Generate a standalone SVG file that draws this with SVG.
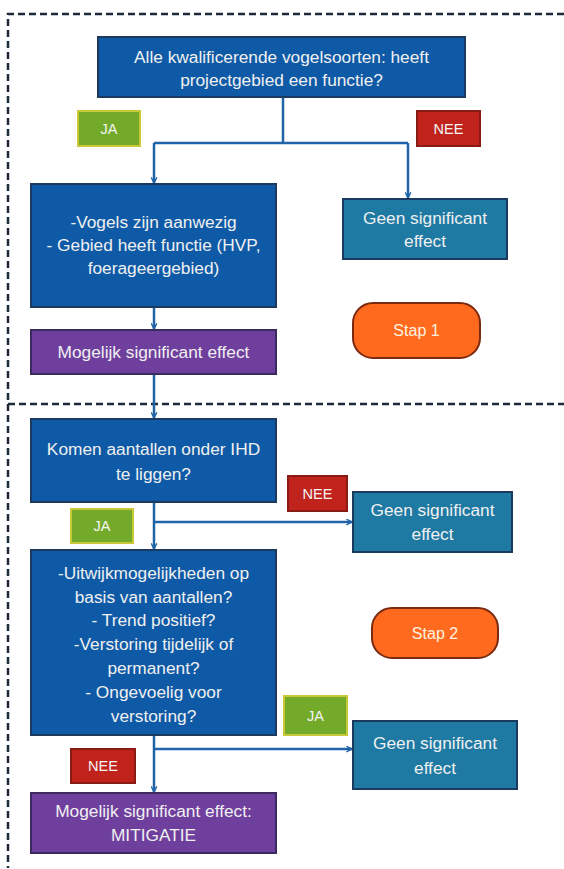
<svg xmlns="http://www.w3.org/2000/svg" width="564" height="869" viewBox="0 0 564 869">
<defs>
<marker id="ah" viewBox="0 0 10 10" refX="9" refY="5" markerWidth="7" markerHeight="7" orient="auto" markerUnits="userSpaceOnUse">
<path d="M1,1 L9,5 L1,9" fill="none" stroke="#1f64a6" stroke-width="2"/>
</marker>
<style>
.blue{fill:#0f5aa6;stroke:#1c3a5e;stroke-width:2}
.teal{fill:#1f7aa3;stroke:#1c3a5e;stroke-width:2}
.purple{fill:#6f3f9e;stroke:#3a2a5e;stroke-width:2}
.orange{fill:#ff6a1e;stroke:#7a2a10;stroke-width:2}
.ja{fill:#73aa2a;stroke:#c8c838;stroke-width:2}
.nee{fill:#c0231c;stroke:#8a1a14;stroke-width:2}
.t{font-family:"Liberation Sans",Arial,sans-serif;font-size:17.3px;fill:#f0f0f0;text-anchor:middle;dominant-baseline:central}
.lab{font-family:"Liberation Sans",Arial,sans-serif;font-size:14.5px;fill:#f5f5f5;text-anchor:middle;dominant-baseline:central}
.stap{font-family:"Liberation Sans",Arial,sans-serif;font-size:16px;fill:#fff3e0;text-anchor:middle;dominant-baseline:central}
.dash{fill:none;stroke:#1e2a3a;stroke-width:2.5;stroke-dasharray:7,4}
.c{fill:none;stroke:#1f64a6;stroke-width:2.5}
</style>
</defs>
<rect width="564" height="869" fill="#ffffff"/>
<g id="frame">
<path class="dash" d="M564,14 H8 V868"/>
<path class="dash" d="M8,404 H564"/>
</g>
<g id="connectors">
<path class="c" d="M283,97 V143"/>
<path class="c" d="M154,143 H408"/>
<path class="c" d="M154,143 V183" marker-end="url(#ah)"/>
<path class="c" d="M408,143 V198" marker-end="url(#ah)"/>
<path class="c" d="M154,307 V329" marker-end="url(#ah)"/>
<path class="c" d="M154,374 V418" marker-end="url(#ah)"/>
<path class="c" d="M154,502 V549" marker-end="url(#ah)"/>
<path class="c" d="M154,522 H352" marker-end="url(#ah)"/>
<path class="c" d="M154,735 V792" marker-end="url(#ah)"/>
<path class="c" d="M154,749 H352" marker-end="url(#ah)"/>
</g>
<g id="q1">
<rect class="blue" x="98" y="37" width="367" height="60"/>
<text class="t" x="281.5" y="57">Alle kwalificerende vogelsoorten: heeft</text>
<text class="t" x="281.5" y="80">projectgebied een functie?</text>
</g>
<g id="ja1"><rect class="ja" x="78" y="111" width="62" height="35"/><text class="lab" x="109" y="128.5">JA</text></g>
<g id="nee1"><rect class="nee" x="417" y="111" width="63" height="35"/><text class="lab" x="448.5" y="128.5">NEE</text></g>
<g id="functie">
<rect class="blue" x="31" y="184" width="245" height="123"/>
<text class="t" x="153.5" y="222">-Vogels zijn aanwezig</text>
<text class="t" x="153.5" y="245">- Gebied heeft functie (HVP,</text>
<text class="t" x="153.5" y="268">foerageergebied)</text>
</g>
<g id="geen1">
<rect class="teal" x="343" y="199" width="164" height="60"/>
<text class="t" x="425" y="218">Geen significant</text>
<text class="t" x="425" y="241">effect</text>
</g>
<g id="stap1"><rect class="orange" x="353" y="303" width="127" height="55" rx="20"/><text class="stap" x="416.5" y="330.5">Stap 1</text></g>
<g id="mse1">
<rect class="purple" x="31" y="330" width="245" height="44"/>
<text class="t" x="153.5" y="352">Mogelijk significant effect</text>
</g>
<g id="q2">
<rect class="blue" x="31" y="419" width="245" height="83"/>
<text class="t" x="153.5" y="449">Komen aantallen onder IHD</text>
<text class="t" x="153.5" y="474">te liggen?</text>
</g>
<g id="nee2"><rect class="nee" x="288" y="476" width="59" height="35"/><text class="lab" x="317.5" y="493.5">NEE</text></g>
<g id="ja2"><rect class="ja" x="71" y="509" width="62" height="34"/><text class="lab" x="102" y="526">JA</text></g>
<g id="geen2">
<rect class="teal" x="353" y="492" width="159" height="60"/>
<text class="t" x="432.5" y="510">Geen significant</text>
<text class="t" x="432.5" y="534">effect</text>
</g>
<g id="q3">
<rect class="blue" x="31" y="550" width="245" height="185"/>
<text class="t" x="153.5" y="573">-Uitwijkmogelijkheden op</text>
<text class="t" x="153.5" y="597">basis van aantallen?</text>
<text class="t" x="153.5" y="620">- Trend positief?</text>
<text class="t" x="153.5" y="644">-Verstoring tijdelijk of</text>
<text class="t" x="153.5" y="668">permanent?</text>
<text class="t" x="153.5" y="692">- Ongevoelig voor</text>
<text class="t" x="153.5" y="716">verstoring?</text>
</g>
<g id="stap2"><rect class="orange" x="372" y="608" width="126" height="50" rx="20"/><text class="stap" x="435" y="633">Stap 2</text></g>
<g id="ja3"><rect class="ja" x="284" y="696" width="63" height="39"/><text class="lab" x="315.5" y="715.5">JA</text></g>
<g id="geen3">
<rect class="teal" x="353" y="721" width="164" height="68"/>
<text class="t" x="435" y="743">Geen significant</text>
<text class="t" x="435" y="768">effect</text>
</g>
<g id="nee3"><rect class="nee" x="71" y="749" width="64" height="34"/><text class="lab" x="103" y="766">NEE</text></g>
<g id="mse2">
<rect class="purple" x="31" y="793" width="245" height="60"/>
<text class="t" x="153.5" y="811">Mogelijk significant effect:</text>
<text class="t" x="153.5" y="835">MITIGATIE</text>
</g>
</svg>
